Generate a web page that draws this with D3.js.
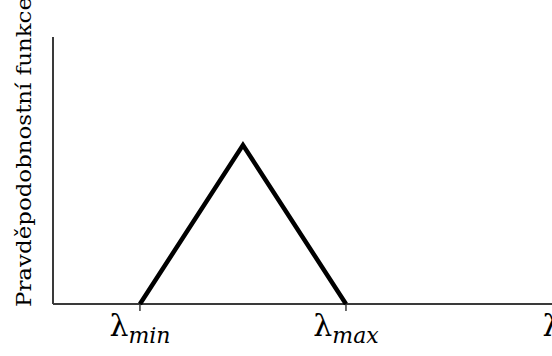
<!DOCTYPE html>
<html>
<head>
<meta charset="utf-8">
<script src="https://cdn.jsdelivr.net/npm/d3@7"></script>
<style>
  body { margin: 0; background: #fff; }
  svg { display: block; }
  text { font-family: "DejaVu Serif", "Liberation Serif", serif; }
</style>
</head>
<body>
<div id="chart"></div>
<script>
// pdf shape: triangle between lambda_min (0) and lambda_max (1)
const pdfX = [0, 0.5, 1];
const pdfY = [0, 1, 0];

// tick positions and labels
const tickValues = [0, 1, 2];
const tickBase = ['λ', 'λ', 'λ'];
const tickSub = ['min', 'max', ''];
const tickMarks = [true, true, false];

const yLabel = 'Pravděpodobnostní funkce';

const width = 552, height = 356;

const svg = d3.select('#chart').append('svg')
    .attr('width', width)
    .attr('height', height);

const x = d3.scaleLinear()
    .domain([-0.422, 2])
    .range([53, 552]);

const y = d3.scaleLinear()
    .domain([0, 1.68])
    .range([304, 37]);

// axes
svg.append('line')
    .attr('x1', x(-0.422)).attr('x2', x(-0.422))
    .attr('y1', y(1.68)).attr('y2', y(0))
    .attr('stroke', '#3a3a3a')
    .attr('stroke-width', 2);

svg.append('line')
    .attr('x1', x(-0.422)).attr('x2', width)
    .attr('y1', y(0)).attr('y2', y(0))
    .attr('stroke', '#3a3a3a')
    .attr('stroke-width', 2);

// ticks
svg.selectAll('.tick')
    .data(tickValues.filter((d, i) => tickMarks[i]))
    .enter().append('line')
    .attr('class', 'tick')
    .attr('x1', d => x(d)).attr('x2', d => x(d))
    .attr('y1', y(0)).attr('y2', y(0) + 7)
    .attr('stroke', '#3a3a3a')
    .attr('stroke-width', 1.5);

// tick labels
const labels = svg.selectAll('.tlabel')
    .data(tickValues)
    .enter().append('text')
    .attr('class', 'tlabel')
    .attr('x', d => x(d))
    .attr('y', 336)
    .attr('text-anchor', 'middle')
    .attr('fill', '#000');

labels.append('tspan')
    .attr('font-size', 30)
    .text((d, i) => tickBase[i]);

labels.append('tspan')
    .attr('font-size', 22)
    .attr('font-style', 'italic')
    .attr('dy', 7)
    .text((d, i) => tickSub[i]);

// triangle
const line = d3.line()
    .x(d => x(d[0]))
    .y(d => y(d[1]));

svg.append('path')
    .datum(pdfX.map((d, i) => [d, pdfY[i]]))
    .attr('d', line)
    .attr('fill', 'none')
    .attr('stroke', '#000')
    .attr('stroke-width', 4.5)
    .attr('stroke-linejoin', 'miter');

// y label
svg.append('text')
    .attr('transform', 'translate(31,307) rotate(-90)')
    .attr('text-anchor', 'start')
    .attr('font-size', 20)
    .attr('textLength', 310)
    .attr('lengthAdjust', 'spacingAndGlyphs')
    .attr('fill', '#000')
    .text(yLabel);
</script>
</body>
</html>
